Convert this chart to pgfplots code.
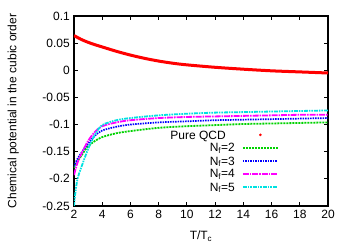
\documentclass[border=0pt]{standalone}
\usepackage{fontspec}
\setmainfont{Liberation Sans}
\usepackage{pgfplots}
\pgfplotsset{compat=1.18}
\definecolor{gpgreen}{RGB}{0,210,0}
\definecolor{gpblue}{RGB}{0,0,255}
\definecolor{gpmag}{RGB}{255,0,255}
\definecolor{gpcyan}{RGB}{0,225,225}
\tikzset{
  sgreen/.style={color=gpgreen, draw=gpgreen, line width=1.8pt, dash pattern=on 2pt off 1pt},
  sblue/.style={color=gpblue, draw=gpblue, line width=1.7pt, dash pattern=on 1.5pt off 1pt},
  smag/.style={color=gpmag, draw=gpmag, line width=1.8pt, dash pattern=on 6pt off 1pt on 1.5pt off 1pt},
  scyan/.style={color=gpcyan, draw=gpcyan, line width=1.8pt, dash pattern=on 4pt off 1pt on 1.5pt off 1pt on 1.5pt off 1pt},
  lt/.style={anchor=base east, inner sep=0pt, yshift=-4.2pt, text=black, font=\fontsize{12pt}{12pt}\selectfont},
}
\begin{document}
\fontsize{12pt}{14pt}\selectfont
\begin{tikzpicture}
\path (-74pt,-39pt) rectangle (276pt,206pt);
\begin{axis}[
  scale only axis, width=254pt, height=190pt,
  xmin=2, xmax=20, ymin=-0.25, ymax=0.1,
  xtick={2,4,...,20},
  ytick={-0.25,-0.2,-0.15,-0.1,-0.05,0,0.05,0.1},
  yticklabels={-0.25,-0.2,-0.15,-0.1,-0.05,0,0.05,0.1},
  /pgf/number format/assume math mode=true,
  tick align=inside, tick style={black, line width=0.8pt}, major tick length=4pt,
  axis line style={line width=1.1pt},
  xlabel={T/T\textsubscript{c}},
  ylabel={Chemical potential in the cubic order},
  xlabel style={at={(axis description cs:0.5,0)}, anchor=north, inner sep=0pt, yshift=-25pt},
  ylabel style={at={(axis description cs:0,0.5)}, anchor=south, inner sep=0pt, yshift=55pt},
]
\addplot[red, line width=3pt, line join=round, smooth] coordinates {
(2,0.064) (2.5,0.057) (3,0.0515) (3.5,0.047) (4,0.043) (5,0.035) (6,0.028) (7,0.022) (8,0.017) (9,0.013) (10,0.010) (12,0.0055) (14,0.002) (16,-0.001) (18,-0.003) (20,-0.005)};
\addplot[sgreen, smooth] coordinates {
(2,-0.180) (2.25,-0.168) (2.5,-0.158) (3,-0.140) (3.5,-0.130) (4,-0.123) (5,-0.116) (6,-0.112) (8,-0.106) (10,-0.103) (12,-0.101) (14,-0.099) (16,-0.098) (18,-0.097) (20,-0.096)};
\addplot[sblue, smooth] coordinates {
(2,-0.177) (2.25,-0.163) (2.5,-0.153) (3,-0.135) (3.5,-0.120) (4,-0.111) (5,-0.104) (6,-0.100) (8,-0.096) (10,-0.094) (12,-0.092) (14,-0.091) (16,-0.090) (18,-0.089) (20,-0.088)};
\addplot[smag, smooth] coordinates {
(2,-0.193) (2.25,-0.170) (2.5,-0.155) (3,-0.130) (3.5,-0.113) (4,-0.103) (5,-0.096) (6,-0.092) (8,-0.088) (10,-0.086) (12,-0.085) (14,-0.084) (16,-0.083) (18,-0.082) (20,-0.082)};
\addplot[scyan, smooth] coordinates {
(2,-0.250) (2.1,-0.225) (2.25,-0.200) (2.5,-0.180) (3,-0.145) (3.5,-0.118) (4,-0.101) (5,-0.092) (6,-0.088) (8,-0.083) (10,-0.080) (12,-0.078) (14,-0.077) (16,-0.076) (18,-0.075) (20,-0.074)};
% legend samples, drawn through the axis
\addplot[red, only marks, mark=*, mark size=1.1pt] coordinates {(15.21,-0.119)};
\addplot[sgreen] coordinates {(13.97,-0.1426) (16.45,-0.1426)};
\addplot[sblue] coordinates {(13.97,-0.167) (16.45,-0.167)};
\addplot[smag] coordinates {(13.97,-0.1905) (16.45,-0.1905)};
\addplot[scyan] coordinates {(13.97,-0.215) (16.45,-0.215)};
\node[lt] at (rel axis cs:0.598,0.374) {Pure QCD};
\node[lt] at (rel axis cs:0.634,0.307) {N\textsubscript{f}=2};
\node[lt] at (rel axis cs:0.634,0.237) {N\textsubscript{f}=3};
\node[lt] at (rel axis cs:0.634,0.170) {N\textsubscript{f}=4};
\node[lt] at (rel axis cs:0.634,0.100) {N\textsubscript{f}=5};
\end{axis}
\end{tikzpicture}
\end{document}
